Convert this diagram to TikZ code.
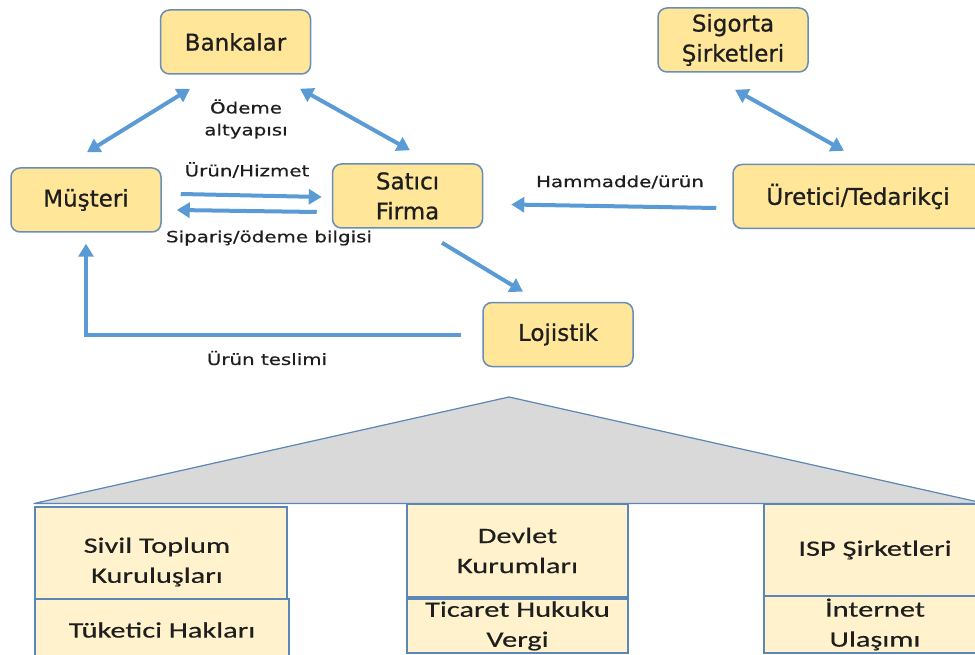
\documentclass[tikz,border=0pt]{standalone}
\usepackage{fontspec}
\usetikzlibrary{arrows.meta,calc}
\newfontfamily\boxfontfam[FakeBold=0.7]{DejaVu Sans}
\newfontfamily\labfontfam[FakeStretch=1.28,FakeBold=0.5]{DejaVu Sans}
\newfontfamily\botfontfam[FakeStretch=1.38,FakeBold=0.4]{Carlito}
\definecolor{boxfill}{HTML}{FFE699}
\definecolor{boxborder}{HTML}{6A8DB8}
\definecolor{arrowblue}{HTML}{5B9BD5}
\definecolor{botfill}{HTML}{FFF2CC}
\definecolor{botborder}{HTML}{5A86B8}
\definecolor{trifill}{HTML}{D9D9D9}
\definecolor{txt}{HTML}{1E1E1E}
\tikzset{
  topbox/.style={draw=boxborder, fill=boxfill, rounded corners=9pt, line width=1.5pt,
    minimum width=150pt, minimum height=64pt, align=center, text=txt,
    font={\boxfontfam\fontsize{23pt}{30pt}\selectfont}},
  lab/.style={align=center, text=txt, inner sep=0pt,
    font={\labfontfam\fontsize{15.5pt}{22pt}\selectfont}},
  btxt/.style={align=center, text=txt, inner sep=0pt,
    font={\botfontfam\fontsize{22pt}{30pt}\selectfont}},
  bbox/.style={btxt, draw=botborder, fill=botfill, line width=1.2pt},
  arr/.style={line width=4pt, draw=arrowblue, -{Triangle[length=13pt,width=15pt]}},
  darr/.style={line width=4pt, draw=arrowblue, {Triangle[length=13pt,width=15pt]}-{Triangle[length=13pt,width=15pt]}},
}
\begin{document}
\begin{tikzpicture}[x=1pt,y=-1pt]
\useasboundingbox (0,0) rectangle (975,655);
\clip (0,0) rectangle (975,655);

% top nodes
\node[topbox] (bank) at (235.5,42) {Bankalar};
\node[topbox] (sig) at (733,40) {Sigorta\\Şirketleri};
\node[topbox] (mus) at (86,200) {Müşteri};
\node[topbox] (sat) at (407.5,196) {Satıcı\\Firma};
\node[topbox, minimum width=250pt] (ure) at (858,196.5) {Üretici/Tedarikçi};
\node[topbox] (loj) at (558,334.5) {Lojistik};

% arrows
\draw[darr] ($(mus.north)+(1,-15)$) -- ($(bank.south)+(-45.5,14)$);
\draw[darr] ($(bank.south)+(64.5,14)$) -- ($(sat.north)+(2.5,-13)$);
\draw[arr] ($(mus.east)+(19,-6)$) -- ($(sat.west)+(-10,1)$);
\draw[arr] ($(sat.west)+(-15,16)$) -- ($(mus.east)+(15,10)$);
\draw[arr] ($(sat.south)+(34.5,14)$) -- ($(loj.north)+(-35,-10)$);
\draw[darr] ($(sig.south)+(2,17)$) -- ($(ure.north)+(-14,-13)$);
\draw[arr] ($(ure.west)+(-16,11.5)$) -- ($(sat.east)+(28,8.5)$);
\draw[arr] ($(loj.west)+(-21,0.5)$) -| ($(mus.south)+(0,11)$);

% labels
\node[lab] (l1) at (246,119) {Ödeme\\altyapısı};
\node[lab] (l2) at (247,170) {Ürün/Hizmet};
\node[lab] (l3) at (269,238) {Sipariş/ödeme bilgisi};
\node[lab] (l4) at (620,182) {Hammadde/ürün};
\node[lab] (l5) at (267,358) {Ürün teslimi};

% roof
\coordinate (apex) at (509,397);
\coordinate (bl) at (34,503.5);
\coordinate (br) at (985,503.5);
\draw[draw=botborder, fill=trifill, line width=1.2pt, line join=round] (apex) -- (bl) -- (br) -- cycle;

% bottom boxes
\node[bbox, minimum width=252pt, minimum height=92pt] (civ) at (161,553) {};
\node[btxt] (civt) at (157,562) {Sivil Toplum\\Kuruluşları};
\node[bbox, minimum width=254pt, minimum height=62pt] (tuk) at (162,630) {Tüketici Hakları};
\node[bbox, minimum width=221pt, minimum height=93pt] (dev) at (517.5,550.5) {Devlet\\Kurumları};
\node[bbox, minimum width=221pt, minimum height=54pt] (tic) at (517.5,626) {Ticaret Hukuku\\Vergi};
\node[bbox, minimum width=222pt, minimum height=92pt] (isp) at (875,550) {ISP Şirketleri};
\node[bbox, minimum width=222pt, minimum height=57pt] (int) at (875,624.5) {İnternet\\Ulaşımı};
\end{tikzpicture}
\end{document}
